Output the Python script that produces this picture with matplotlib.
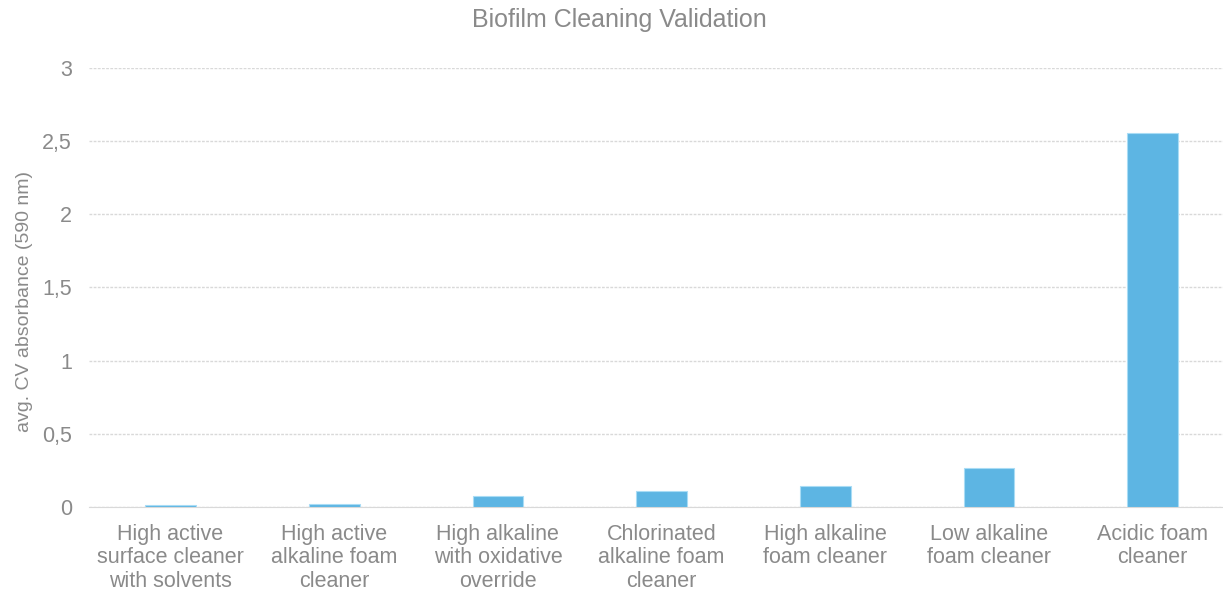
import matplotlib
matplotlib.use("Agg")
import matplotlib.pyplot as plt
from matplotlib.ticker import FuncFormatter

plt.rcParams['font.family'] = ['Liberation Sans', 'DejaVu Sans']

categories = [
    "High active\nsurface cleaner\nwith solvents",
    "High active\nalkaline foam\ncleaner",
    "High alkaline\nwith oxidative\noverride",
    "Chlorinated\nalkaline foam\ncleaner",
    "High alkaline\nfoam cleaner",
    "Low alkaline\nfoam cleaner",
    "Acidic foam\ncleaner",
]
absorbance = [0.012, 0.02, 0.075, 0.109, 0.146, 0.265, 2.555]
y_ticks = [0, 0.5, 1, 1.5, 2, 2.5, 3]

text_color = "#8a8a8a"
bar_color = "#5DB5E3"

fig = plt.figure(figsize=(12.23, 5.94), dpi=100)
# plot area runs slightly past the right edge of the canvas
ax = fig.add_axes([0.0725, 0.1465, 0.937, 0.739])

x = list(range(len(categories)))
ax.bar(x, absorbance, width=0.31, color=bar_color, edgecolor="#a9dcf5", linewidth=0.8, zorder=3)

ax.set_xlim(-0.5, len(categories) - 0.5)
ax.set_ylim(0, 3)
ax.set_yticks(y_ticks)
ax.yaxis.set_major_formatter(FuncFormatter(lambda v, p: f"{v:g}".replace(".", ",")))
ax.set_xticks(x)
ax.set_xticklabels(categories, linespacing=1.17)

ax.grid(axis="y", color="#d9d9d9", linewidth=1.0, linestyle=(0, (2, 1)), zorder=0)
for s in ["top", "right", "left"]:
    ax.spines[s].set_visible(False)
ax.spines["bottom"].set_color("#d9d9d9")
ax.spines["bottom"].set_linestyle((0, (2, 1)))

ax.tick_params(axis="both", length=0, colors=text_color, labelsize=15.5)
ax.tick_params(axis="x", pad=12)
ax.tick_params(axis="y", pad=12)

ax.set_ylabel("avg. CV absorbance (590 nm)", color=text_color, fontsize=14)
ax.yaxis.set_label_coords(-(88.7 - 25) / 1146, 0.467)
ax.yaxis.label.set_verticalalignment("center")

fig.text(619 / 1223, 1 - 20 / 594, "Biofilm Cleaning Validation", color=text_color,
         fontsize=18, ha="center", va="center")

fig.savefig("out.png", dpi=100)
